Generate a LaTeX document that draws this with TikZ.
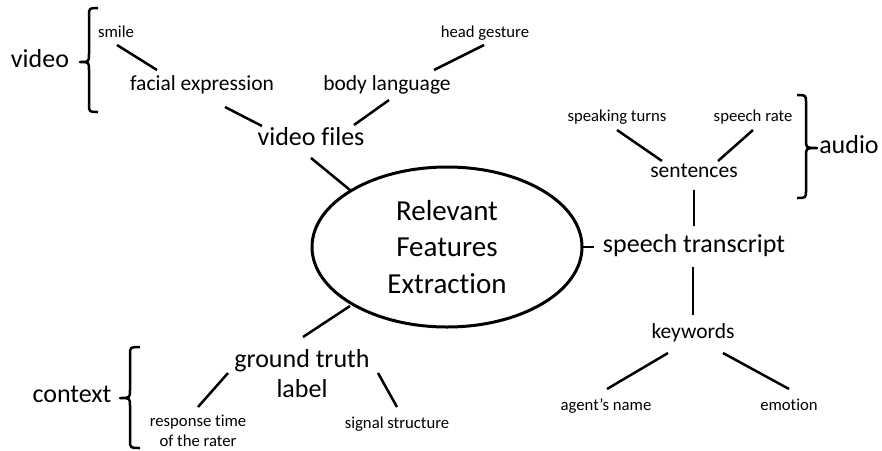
\documentclass[tikz,border=0pt]{standalone}
\usepackage{fontspec}
\setmainfont{Carlito}[Ligatures=NoCommon]
\usetikzlibrary{calc,shapes.geometric}
\tikzset{
  lbig/.style={font=\fontsize{26}{30}\selectfont, text height=1.15em, text depth=0em, inner sep=0pt},
  lbigml/.style={font=\fontsize{26}{30}\selectfont, align=center, inner sep=0pt},
  lmid/.style={font=\fontsize{21.5}{26}\selectfont, text height=1.1em, text depth=0em, inner sep=0pt},
  lsmall/.style={font=\fontsize{16.7}{20}\selectfont, text height=1.0em, text depth=0em, inner sep=0pt},
  lsmallml/.style={font=\fontsize{16.7}{20}\selectfont, align=center, inner sep=0pt},
  conn/.style={line width=2.5pt},
  bracestyle/.style={line width=2.5pt, line join=round},
  centre/.style={draw, ellipse, line width=3pt, minimum width=270pt, minimum height=160pt, inner sep=0pt,
    font=\fontsize{29}{36.5}\selectfont, align=center}
}
\begin{document}
\begin{tikzpicture}[x=1pt,y=-1pt]
\useasboundingbox (0,0) rectangle (882,450);
% centre
\node[centre] (ell) at (447,247) {Relevant\\Features\\Extraction};
% video branch
\node[lbig] (video) at (40,62) {video};
\node[lsmall] (smile) at (116,32) {smile};
\node[lmid] (facial) at (202,85) {facial expression};
\node[lbig] (vfiles) at (311,140) {video files};
\node[lmid] (body) at (387,85) {body language};
\node[lsmall] (head) at (485,32) {head gesture};
% context branch
\node[lbigml] (gt) at (302,374) {ground truth\\label};
\node[lsmallml] (resp) at (198,431) {response time\\of the rater};
\node[lsmall] (signal) at (397,423) {signal structure};
\node[lbig] (context) at (72,397) {context};
% speech branch
\node[lbig] (st) at (694,247) {speech transcript};
\node[lmid] (sent) at (694,172) {sentences};
\node[lsmall] (speak) at (617,116) {speaking turns};
\node[lsmall] (srate) at (753,116) {speech rate};
\node[lbig] (audio) at (849,148) {audio};
\node[lmid] (kw) at (693,333) {keywords};
\node[lsmall] (agent) at (606,405) {agent’s name};
\node[lsmall] (emo) at (789,405) {emotion};
% connectors
\draw[conn] ($(smile)+(1,13)$) -- ($(facial)+(-45,-15)$);
\draw[conn] ($(facial)+(23,22)$) -- ($(vfiles)+(-49,-14)$);
\draw[conn] ($(vfiles)+(43,-15)$) -- ($(body)+(2,15)$);
\draw[conn] ($(body)+(47,-15)$) -- ($(head)+(-1,13)$);
\draw[conn] ($(vfiles)+(0,18)$) -- ($(ell)+(-97,-57)$);
\draw[conn] ($(ell)+(-97,59)$) -- ($(gt)+(1,-37)$);
\draw[conn] ($(gt)+(-74,-1)$) -- ($(resp)+(0,-24)$);
\draw[conn] ($(gt)+(76,-1)$) -- ($(signal)+(0,-16)$);
\draw[conn] ($(ell)+(136,0)$) -- ($(st)+(-100,0)$);
\draw[conn] ($(sent)+(0,18)$) -- ($(st)+(0,-21)$);
\draw[conn] ($(speak)+(0,14)$) -- ($(sent)+(-32,-11)$);
\draw[conn] ($(srate)+(0,14)$) -- ($(sent)+(24,-11)$);
\draw[conn] ($(st)+(-1,20)$) -- ($(kw)+(0,-18)$);
\draw[conn] ($(kw)+(-25,20)$) -- ($(agent)+(1,-16)$);
\draw[conn] ($(kw)+(30,20)$) -- ($(emo)+(0,-16)$);
% braces
\draw[bracestyle] (98,8) .. controls (89,8) .. (89,16) -- (89,54) .. controls (89,62) .. (80,62)
  .. controls (89,62) .. (89,70) -- (89,104) .. controls (89,112) .. (98,112);
\draw[bracestyle] (140,347) .. controls (130,347) .. (130,355) -- (130,390) .. controls (130,398) .. (120,398)
  .. controls (130,398) .. (130,406) -- (130,440) .. controls (130,448) .. (140,448);
\draw[bracestyle] (797,95) .. controls (806,95) .. (806,103) -- (806,140) .. controls (806,148) .. (817,148)
  .. controls (806,148) .. (806,156) -- (806,190) .. controls (806,198) .. (797,198);
\end{tikzpicture}
\end{document}
